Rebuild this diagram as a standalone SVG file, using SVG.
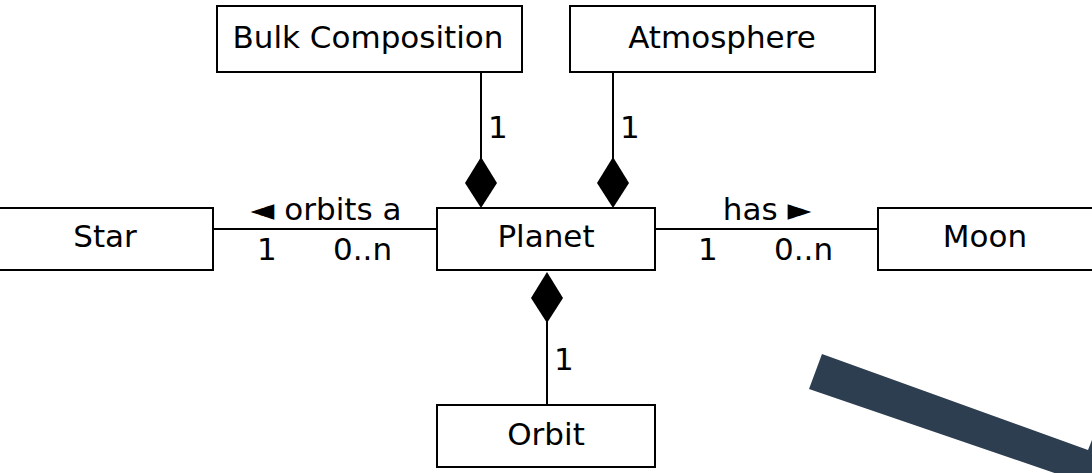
<svg xmlns="http://www.w3.org/2000/svg" width="1092" height="473" viewBox="0 0 1092 473">
<style>
.box{fill:#fff;stroke:#000;stroke-width:2}
.t{font-family:"DejaVu Sans",sans-serif;font-size:31px;fill:#000}
.m{text-anchor:middle}
.ln{stroke:#000;stroke-width:2;fill:none}
.dm{fill:#000}
</style>
<rect width="1092" height="473" fill="#fff"/>
<g id="connectors">
<line class="ln" x1="481" y1="72" x2="481" y2="160"/>
<polygon class="dm" points="481,157 497,183 481,208 465,183"/>
<line class="ln" x1="613" y1="72" x2="613" y2="160"/>
<polygon class="dm" points="613,157 629,183 613,208 597,183"/>
<line class="ln" x1="213" y1="229" x2="437" y2="229"/>
<line class="ln" x1="655" y1="229" x2="878" y2="229"/>
<line class="ln" x1="547" y1="320" x2="547" y2="405"/>
<polygon class="dm" points="547,272 563,298 547,323 531,298"/>
<text class="t" x="488" y="138">1</text>
<text class="t" x="620" y="138">1</text>
<text class="t m" x="326" y="220">◄ orbits a</text>
<text class="t" x="257" y="260">1</text>
<text class="t" x="333" y="260">0..n</text>
<text class="t m" x="767" y="220">has ►</text>
<text class="t" x="698" y="260">1</text>
<text class="t" x="774" y="260">0..n</text>
<text class="t" x="554" y="370">1</text>
</g>
<g id="bulk"><rect class="box" x="217" y="6" width="305" height="66"/><text class="t m" x="368" y="48">Bulk Composition</text></g>
<g id="atmosphere"><rect class="box" x="570" y="6" width="305" height="66"/><text class="t m" x="722" y="48">Atmosphere</text></g>
<g id="star"><rect class="box" x="-10" y="208" width="223" height="62"/><text class="t m" x="105" y="247">Star</text></g>
<g id="planet"><rect class="box" x="437" y="208" width="218" height="62"/><text class="t m" x="546" y="247">Planet</text></g>
<g id="moon"><rect class="box" x="878" y="208" width="230" height="62"/><text class="t m" x="985" y="247">Moon</text></g>
<g id="orbit"><rect class="box" x="437" y="405" width="218" height="62"/><text class="t m" x="546" y="445">Orbit</text></g>
<polygon fill="#2d3e50" points="822,354 1088,450 1092,440 1092,480 1075,480 809,389"/>
</svg>
